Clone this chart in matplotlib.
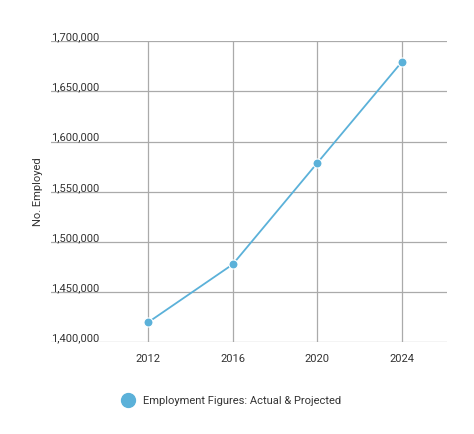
import matplotlib
matplotlib.use("Agg")
import matplotlib.pyplot as plt
from matplotlib.transforms import blended_transform_factory

years = [2012, 2016, 2020, 2024]
employed = [1420000, 1477700, 1578600, 1679200]
yticks = [1400000, 1450000, 1500000, 1550000, 1600000, 1650000, 1700000]
series_name = "Employment Figures: Actual & Projected"

plt.rcParams['font.family'] = ['Roboto', 'DejaVu Sans']
W, H = 474, 435
fig = plt.figure(figsize=(W/100, H/100), dpi=100)
x0, x1, yb, yt = 51, 447, 343.3, 42.3
ax = fig.add_axes([x0/W, 1-yb/H, (x1-x0)/W, (yb-yt)/H])
ax.set_xlim(2007.39, 2026.15)
ax.set_ylim(1400000, 1700000)
for s in ax.spines.values():
    s.set_visible(False)
ax.set_yticks(yticks)
ax.set_xticks(years)
ax.tick_params(length=0)
ax.set_yticklabels([])
ax.set_xticklabels([str(y) for y in years], fontsize=8, color='#333333')
ax.tick_params(axis='x', pad=8)
ax.grid(True, color='#aaaaaa', linewidth=0.9)
ax.set_axisbelow(True)
tr = blended_transform_factory(ax.transAxes, ax.transData)
for v in yticks:
    ax.text(0, v, f"{v:,}", transform=tr, ha='left', va='bottom', fontsize=8,
            color='#333333')
ax.plot(years, employed, color='#5bb1d9', linewidth=1.3, marker='o', markersize=6.5,
        markeredgecolor='white', markeredgewidth=0.8, clip_on=False)
fig.text(38/W, 1-192/H, "No. Employed", rotation=90, ha='center', va='center',
         fontsize=8, color='#333333')
fig.lines.append(plt.Line2D([128/W], [1-401/H], marker='o', markersize=10,
                            color='#5bb1d9', transform=fig.transFigure))
fig.text(143/W, 1-401/H, series_name, ha='left', va='center', fontsize=8, color='#333333')
fig.savefig("out.png", dpi=100)
